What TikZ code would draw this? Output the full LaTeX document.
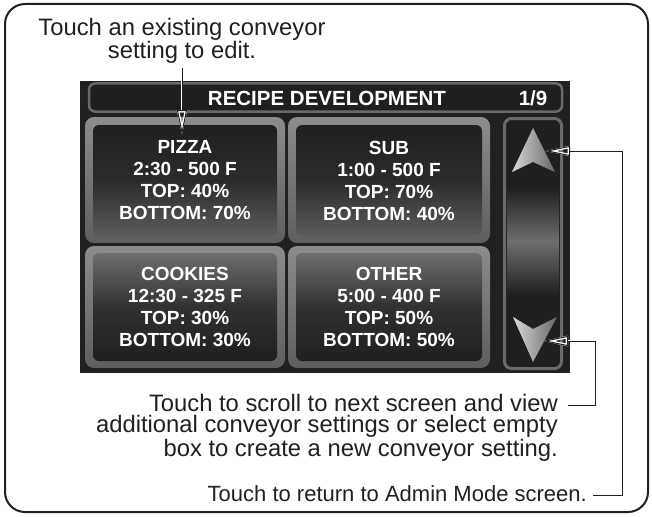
\documentclass[tikz,border=0pt]{standalone}
\usepackage{fontspec}
\setmainfont{Liberation Sans}
\usetikzlibrary{arrows.meta}
\definecolor{ink}{HTML}{231F20}
\definecolor{scr}{HTML}{231F20}
\definecolor{rim}{HTML}{5E5E5E}
\definecolor{rimlight}{HTML}{8C8C8C}
\definecolor{paneldark}{HTML}{1F1F1F}
\definecolor{panelgray}{HTML}{5C5C5C}
\definecolor{panelhi}{HTML}{6E6E6E}
\definecolor{scrollrim}{HTML}{6A6A6A}
\tikzset{
  note/.style={text=ink, inner sep=0pt, font=\fontsize{23.8}{21.5}\selectfont},
  btnrim/.style={rounded corners=9pt, top color=rimlight, bottom color=rim, draw=none, inner sep=0pt},
  btntop/.style={rounded corners=6pt, inner sep=0pt, text=white, align=center,
    font=\bfseries\fontsize{19}{22}\selectfont,
    top color=paneldark, bottom color=panelgray, middle color=paneldark!80!panelgray},
  btnbot/.style={rounded corners=6pt, inner sep=0pt, text=white, align=center,
    font=\bfseries\fontsize{19}{22}\selectfont,
    top color=panelhi, bottom color=paneldark, middle color=paneldark!92!white},
  callout/.style={draw=ink, line width=1pt, -{Triangle[open,length=25pt,width=10pt]},
    preaction={draw=white, line width=2.4pt}},
}
\begin{document}
\begin{tikzpicture}[x=1pt,y=-1pt]
\useasboundingbox (0,0) rectangle (652,516);
% outer frame
\draw[ink, line width=2pt, rounded corners=20pt] (5,4) rectangle (648,512);

% screen
\fill[scr] (80,81) rectangle (570,373);

% title bar
\node[draw=scrollrim, line width=2.5pt, fill=paneldark, rounded corners=6pt,
  minimum width=473pt, minimum height=28pt, inner sep=0pt] (titlebar) at (325.5,97.5) {};
\node[text=white, inner sep=0pt, font=\bfseries\fontsize{20.5}{22}\selectfont] (title) at (327,98) {RECIPE DEVELOPMENT};
\node[text=white, inner sep=0pt, font=\bfseries\fontsize{20.5}{22}\selectfont] (page) at (533,98) {1/9};

% buttons: rims
\node[btnrim, minimum width=200pt, minimum height=126pt] (rim1) at (185,180) {};
\node[btnrim, minimum width=202pt, minimum height=126pt] (rim2) at (389,180) {};
\node[btnrim, minimum width=200pt, minimum height=122pt] (rim3) at (185,307) {};
\node[btnrim, minimum width=202pt, minimum height=122pt] (rim4) at (389,307) {};
% buttons: panels
\node[btntop, minimum width=184pt, minimum height=111pt] (pizza) at (185,180.5)
  {PIZZA\\2:30 - 500 F\\TOP: 40\%\\BOTTOM: 70\%};
\node[btntop, minimum width=186pt, minimum height=111pt] (sub) at (389,180.5)
  {SUB\\1:00 - 500 F\\TOP: 70\%\\BOTTOM: 40\%};
\node[btnbot, minimum width=184pt, minimum height=108pt] (cookies) at (185,307)
  {COOKIES\\12:30 - 325 F\\TOP: 30\%\\BOTTOM: 30\%};
\node[btnbot, minimum width=186pt, minimum height=108pt] (other) at (389,307)
  {OTHER\\5:00 - 400 F\\TOP: 50\%\\BOTTOM: 50\%};

% scroll bar
\node[draw=scrollrim, line width=3pt, fill=paneldark, rounded corners=7pt,
  minimum width=57pt, minimum height=250pt, inner sep=0pt] (scroll) at (533,243.5) {};
\fill[top color=paneldark, bottom color=paneldark, middle color=panelhi] (507,188) rectangle (559,295);
% arrows
\shade[left color=white!70!gray, right color=gray!80!black]
  (533,128) -- (555,172) -- (533,162) -- (512,172) -- cycle;
\shade[left color=white!70!gray, right color=gray!80!black]
  (513,317) -- (533,329) -- (557,317) -- (533,362) -- cycle;

% texts
\node[note, align=center, anchor=north] (topnote) at (182,18) {Touch an existing conveyor\\setting to edit.};
\node[note, align=right, anchor=north east] (scrollnote) at (558,394)
  {Touch to scroll to next screen and view\\additional conveyor settings or select empty\\box to create a new conveyor setting.};
\node[note, anchor=base east, font=\fontsize{22}{21}\selectfont] (retnote) at (587,501) {Touch to return to Admin Mode screen.};

% connector coordinates
\coordinate (pzFrom) at (182,68);
\coordinate (pzTip) at (182,135);
\coordinate (upCorner) at (622,151);
\coordinate (upTip) at (545,151);
\coordinate (dnCorner) at (595,341);
\coordinate (dnTip) at (543,341);
\coordinate (scrollEnd) at (568,405);
\coordinate (retEnd) at (593,495);

% connectors
\draw[callout] (pzFrom) -- (pzTip);
\draw[callout] (retEnd) -| (upCorner) -- (upTip);
\draw[callout] (scrollEnd) -| (dnCorner) -- (dnTip);
\end{tikzpicture}
\end{document}
